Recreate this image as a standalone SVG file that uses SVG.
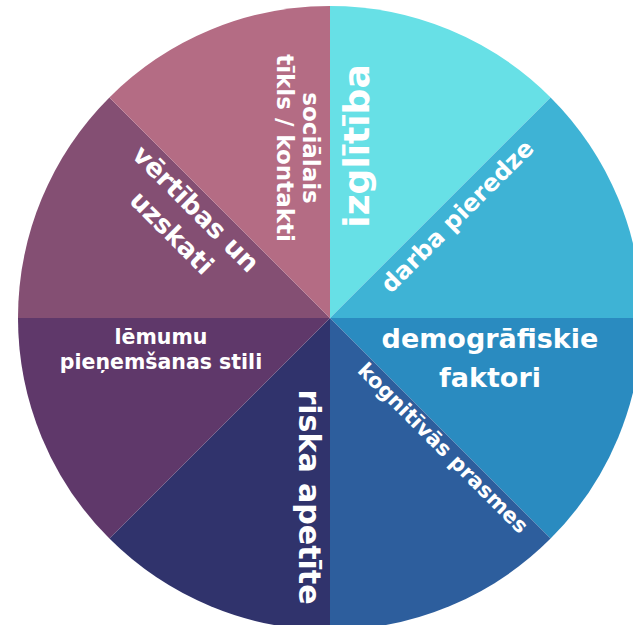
<svg xmlns="http://www.w3.org/2000/svg" width="633" height="625" viewBox="0 0 633 625">
<style>
  .lbl { font-family: "DejaVu Sans", "Liberation Sans", sans-serif; font-weight: bold; fill: #ffffff; text-anchor: middle; }
</style>
<rect width="633" height="625" fill="#ffffff"/>
<g id="sectors">
  <path id="s-izglitiba" d="M330,318 L330,6 A312,312 0 0 1 550.6,97.4 Z" fill="#67e0e6"/>
  <path id="s-darba" d="M330,318 L550.6,97.4 A312,312 0 0 1 642,318 Z" fill="#3eb3d5"/>
  <path id="s-demogr" d="M330,318 L642,318 A312,312 0 0 1 550.6,538.6 Z" fill="#2a8bc0"/>
  <path id="s-kogn" d="M330,318 L550.6,538.6 A312,312 0 0 1 330,630 Z" fill="#2d5e9d"/>
  <path id="s-riska" d="M330,318 L330,630 A312,312 0 0 1 109.4,538.6 Z" fill="#30336c"/>
  <path id="s-lemumu" d="M330,318 L109.4,538.6 A312,312 0 0 1 18,318 Z" fill="#5f386a"/>
  <path id="s-vertibas" d="M330,318 L18,318 A312,312 0 0 1 109.4,97.4 Z" fill="#844f73"/>
  <path id="s-socialais" d="M330,318 L109.4,97.4 A312,312 0 0 1 330,6 Z" fill="#b46c84"/>
</g>
<g id="labels">
  <g id="t-izglitiba"><text class="lbl" font-size="36" transform="translate(369,146) rotate(-90)">izglītība</text></g>
  <g id="t-socialais"><text class="lbl" font-size="23" transform="translate(303,148) rotate(90)"><tspan x="0" y="0">sociālais</tspan><tspan x="0" y="26">tīkls / kontakti</tspan></text></g>
  <g id="t-darba"><text class="lbl" font-size="24" transform="translate(463,222) rotate(-45)">darba pieredze</text></g>
  <g id="t-demogr"><text class="lbl" font-size="27"><tspan x="490" y="348">demogrāfiskie</tspan><tspan x="490" y="387">faktori</tspan></text></g>
  <g id="t-kogn"><text class="lbl" font-size="21" transform="translate(438,453) rotate(45)">kognitīvās prasmes</text></g>
  <g id="t-riska"><text class="lbl" font-size="30" transform="translate(299,497) rotate(90)">riska apetīte</text></g>
  <g id="t-lemumu"><text class="lbl" font-size="20.5"><tspan x="161" y="344">lēmumu</tspan><tspan x="161" y="369">pieņemšanas stili</tspan></text></g>
  <g id="t-vertibas"><text class="lbl" font-size="26" transform="translate(189.5,215) rotate(45)"><tspan x="0" y="0">vērtības un</tspan><tspan x="0" y="34">uzskati</tspan></text></g>
</g>
</svg>
